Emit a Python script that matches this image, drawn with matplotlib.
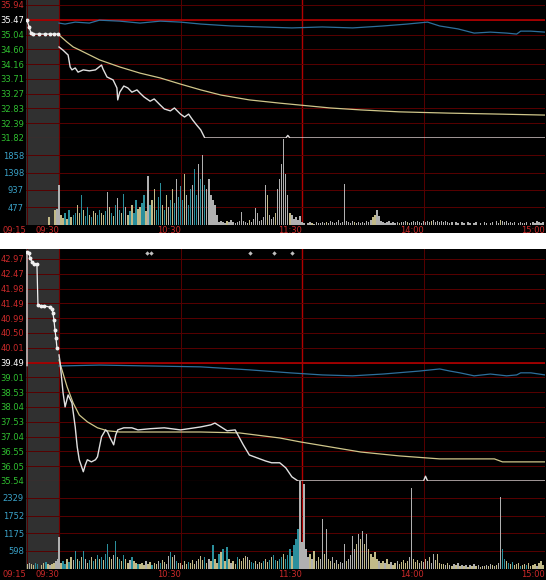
import matplotlib
matplotlib.use('Agg')
import matplotlib.pyplot as plt
import numpy as np

W, H = 548, 580

# ---------------- data: upper session ----------------
top_price_labels = ['35.94', '35.47', '35.04', '34.60', '34.16', '33.71', '33.27', '32.83', '32.39', '31.82']
top_vol_labels = ['477', '937', '1398', '1858']
top_vol_ticks = [477, 937, 1398, 1858]
top_prev = 35.47
top_floor = 31.82

top_pre_t = [-15.8, -14.8, -13.8, -12.8, -10.0, -6.9, -4.4, -2.5, -0.5]
top_pre_p = [35.47, 35.26, 35.07, 35.04, 35.04, 35.04, 35.04, 35.04, 35.04]

top_t = [0, 2, 4.5, 5.5, 6.4, 8, 9.4, 12, 15, 18, 21, 21.7, 23.7, 26.7, 28.6, 29, 30, 32, 34, 36,
         38.5, 40, 42, 45, 47, 50, 52, 55, 57, 60, 62, 64, 66, 68, 70, 72, 112, 113, 114, 240]
top_p = [34.64, 34.54, 34.39, 34.02, 33.93, 33.99, 33.86, 33.93, 33.90, 33.93, 34.08, 33.96, 33.71, 33.62, 33.37, 33.00, 33.24, 33.43, 33.37, 33.24,
         33.31, 33.21, 33.09, 32.96, 33.03, 32.84, 32.72, 32.66, 32.75, 32.56, 32.47, 32.56, 32.38, 32.22, 32.07, 31.82, 31.82, 31.90, 31.82, 31.82]

top_avg_t = [0, 4, 7, 10, 20, 30, 40, 50, 60, 70, 80, 94, 109, 119, 134, 149, 168, 193, 218, 240]
top_avg_p = [35.01, 34.79, 34.64, 34.55, 34.24, 34.02, 33.83, 33.68, 33.49, 33.31, 33.15, 33.00, 32.90, 32.84, 32.75, 32.69, 32.63, 32.59, 32.56, 32.53]

top_idx_t = [0, 3, 8, 15, 20, 30, 40, 50, 60, 70, 85, 100, 115, 130, 145, 160, 172, 182, 188, 197,
             205, 213, 221, 226, 228, 233, 240]
top_idx_p = [35.38, 35.35, 35.41, 35.38, 35.47, 35.44, 35.38, 35.44, 35.41, 35.35, 35.29, 35.26, 35.23, 35.26, 35.23, 35.29, 35.35, 35.41, 35.29, 35.20,
             35.07, 35.10, 35.07, 35.04, 35.13, 35.13, 35.10]

top_pre_vol_t = [-5, -2, -1]
top_pre_vol = [220, 400, 430]
top_pre_kind = 'yyw'

top_vol = [1080, 270, 190, 320, 160, 400, 220, 270, 320, 540,
           320, 790, 400, 240, 490, 270, 220, 380, 320, 270,
           400, 320, 270, 380, 870, 490, 320, 240, 540, 730,
           400, 320, 840, 490, 270, 380, 540, 320, 680, 430,
           490, 590, 810, 380, 1320, 540, 680, 950, 400, 760,
           1130, 540, 400, 810, 490, 680, 950, 590, 1220, 760,
           1030, 680, 1350, 810, 540, 950, 1080, 1490, 810, 1620,
           1220, 1860, 1080, 950, 1240, 810, 680, 540, 270, 80,
           110, 80, 50, 110, 80, 140, 80, 50, 80, 110,
           350, 110, 80, 50, 140, 80, 160, 460, 320, 110,
           140, 220, 1080, 810, 270, 160, 220, 320, 950, 1220,
           1620, 2300, 1350, 810, 320, 270, 160, 220, 140, 240,
           80, 50, 0, 50, 80, 50, 30, 80, 50, 50,
           80, 50, 80, 50, 110, 80, 50, 80, 140, 50,
           80, 1100, 110, 80, 50, 110, 80, 50, 80, 50,
           80, 50, 110, 80, 140, 220, 270, 400, 240, 110,
           80, 50, 80, 110, 50, 80, 50, 80, 50, 80,
           80, 110, 80, 50, 80, 110, 80, 110, 80, 50,
           110, 80, 110, 80, 110, 140, 80, 110, 80, 110,
           80, 110, 80, 50, 80, 0, 80, 50, 0, 80,
           50, 0, 80, 50, 0, 50, 80, 0, 50, 0,
           80, 50, 0, 50, 80, 0, 110, 50, 140, 110,
           80, 110, 50, 80, 50, 80, 0, 50, 80, 50,
           50, 80, 0, 50, 80, 50, 110, 80, 50, 80]
top_kind = ("wyycycyccy" "ycyccycyyc" "cyycwycycw" "cycwycyccy" "yccywcyycc" "cycywcycwc"
            "ccywccwccw" "cwcwwwwwww" "wwwywwwwww" "wwwwywwwww" "wwwywwwyww" "wwwwywwwww"
            "wwwwwywwww" "wwywwwwwww" "wwwwwwywww" "wwwwwyywww" "wwwwwwwwyw" "wwywwwwwww"
            "wwwwywwwww" "wwwwwwwwww" "wwwwwwwwww" "wwwwwwwwyw" "wwwwwwwwww" "wwwwwwwwww")

# ---------------- data: lower session ----------------
bot_price_labels = ['42.97', '42.47', '41.98', '41.49', '40.99', '40.50', '40.01', '39.49',
                    '39.01', '38.53', '38.04', '37.53', '37.04', '36.55', '36.05', '35.54']
bot_vol_labels = ['598', '1175', '1752', '2329']
bot_vol_ticks = [598, 1175, 1752, 2329]
bot_prev = 39.49
bot_floor = 35.54

bot_pre_t = [-15.8, -15.8, -14.8, -14.3, -13.3, -12.3, -10.9, -10.4, -8.9, -7.4, -4.4, -3.5, -3.0, -2.5, -2.0, -1.5, -1.0]
bot_pre_p = [39.40, 43.20, 43.17, 43.00, 42.87, 42.80, 42.80, 41.43, 41.40, 41.40, 41.36, 41.30, 41.16, 40.93, 40.60, 40.33, 39.99]

bot_t = [0, 0.5, 2, 3, 4.5, 6.4, 8, 9, 10, 12, 13, 14, 16, 18, 19, 21, 23, 24, 25, 27,
         28, 29, 32, 36, 39, 45, 52, 60, 70, 75, 77, 80, 83, 87, 91, 94, 98, 102, 105, 109,
         112, 115, 118, 180, 181, 182, 240]
bot_p = [39.76, 39.52, 38.49, 38.02, 38.42, 38.15, 37.35, 36.68, 36.25, 35.85, 36.08, 36.25, 36.18, 36.25, 36.35, 37.02, 37.25, 37.18, 37.02, 36.75,
         37.08, 37.25, 37.32, 37.32, 37.25, 37.29, 37.32, 37.25, 37.35, 37.42, 37.48, 37.35, 37.22, 37.25, 36.75, 36.41, 36.31, 36.21, 36.15, 36.15,
         35.98, 35.68, 35.54, 35.54, 35.70, 35.54, 35.54]

bot_avg_t = [0, 4, 7, 10, 14, 19, 24, 30, 39, 70, 89, 109, 119, 134, 149, 168, 188, 215, 219, 240]
bot_avg_p = [39.59, 38.69, 38.15, 37.75, 37.52, 37.32, 37.22, 37.18, 37.18, 37.18, 37.15, 36.98, 36.85, 36.68, 36.51, 36.38, 36.28, 36.28, 36.18, 36.18]

bot_idx_t = [0, 20, 45, 70, 94, 114, 130, 145, 160, 178, 188, 193, 198, 205, 213, 221, 226, 228, 233, 240]
bot_idx_p = [39.39, 39.42, 39.39, 39.36, 39.26, 39.16, 39.09, 39.06, 39.12, 39.22, 39.29, 39.22, 39.16, 39.06, 39.12, 39.06, 39.09, 39.16, 39.16, 39.09]

bot_mark_t = [43.5, 45.4, 94.3, 106, 115]
bot_mark_p = 43.17

bot_pre_vol_t = [-15.5, -14.5, -13.5, -12.5, -11.5, -10.5, -9.5, -8.5, -7.5, -6.5, -5.5, -4.5, -3.5, -2.5, -1.5, -0.5]
bot_pre_vol = [160, 190, 160, 130, 190, 160, 0, 130, 190, 220, 160, 130, 160, 190, 260, 330]
bot_pre_kind = "ywyyccwyycywyyww"

bot_vol = [1040, 200, 260, 160, 330, 230, 390, 290, 590, 330,
           260, 390, 590, 330, 200, 290, 390, 260, 330, 460,
           330, 390, 290, 490, 820, 390, 330, 460, 910, 390,
           330, 260, 460, 330, 200, 290, 390, 260, 200, 160,
           160, 200, 130, 260, 160, 230, 130, 200, 160, 260,
           200, 290, 230, 160, 420, 550, 390, 460, 260, 200,
           200, 130, 260, 160, 230, 200, 290, 160, 260, 330,
           420, 290, 390, 200, 330, 260, 780, 330, 200, 490,
           550, 650, 260, 720, 330, 200, 260, 160, 390, 330,
           260, 360, 420, 390, 290, 230, 200, 260, 160, 230,
           200, 260, 330, 230, 290, 390, 460, 290, 260, 330,
           390, 490, 330, 460, 650, 420, 780, 980, 1300, 2870,
           900, 2800, 650, 390, 490, 330, 590, 260, 390, 330,
           1630, 490, 1300, 330, 260, 390, 200, 290, 160, 230,
           200, 820, 260, 330, 460, 1080, 650, 820, 1140, 980,
           1240, 820, 1140, 650, 490, 390, 550, 330, 260, 200,
           260, 200, 330, 160, 230, 130, 200, 260, 160, 230,
           290, 200, 260, 390, 2670, 330, 230, 290, 200, 260,
           230, 330, 260, 390, 200, 490, 290, 490, 200, 160,
           160, 130, 200, 130, 100, 160, 130, 200, 100, 130,
           100, 130, 65, 130, 100, 160, 100, 130, 65, 100,
           100, 130, 100, 160, 130, 100, 130, 200, 2350, 650,
           330, 260, 200, 160, 230, 130, 160, 200, 100, 130,
           160, 130, 200, 100, 130, 160, 100, 200, 260, 130]
bot_kind = ("wyccycywcy" "cycwycycyc" "ycyccyywcy" "cycyywcyyc" "yyywyycyyw" "cyywwcywcy"
            "ywyycyyywy" "yycywycyyc" "ycycywyycy" "yyywyccywy" "ycyycyccyc" "cycccycccw"
            "wwwwywywyw" "wywyywywyw" "wwywwwwywy" "wywyyyyywy" "ywyywyywyy" "yyywwyyywy"
            "wywywwyyyy" "ywywywywyw" "ywywywywyw" "ywywywywwc" "cycycyyycy" "ycyyyywyyy")

time_ticks = [-16.3, 0, 60, 120, 180, 240]
time_labels = ['09:15', '09:30', '10:30', '11:30', '14:00', '15:00']

# ---------------- style ----------------
DIM = '#580000'
BRIGHT = '#b00000'
GRAY_BOX = '#303030'
kind_color = {'c': '#2b8f9c', 'y': '#c2ba88', 'w': '#b0b0b0'}
FS = 6


def box(x0, y0, x1, y1):
    return [x0 / W, 1 - y1 / H, (x1 - x0) / W, (y1 - y0) / H]


def clean(ax):
    ax.set_facecolor('black')
    for s in ax.spines.values():
        s.set_visible(False)
    ax.set_xlim(-16.3, 240)
    ax.axvspan(-16.3, 0, color=GRAY_BOX, zorder=0, lw=0)
    ax.axvline(-16.0, color=DIM, lw=0.7, zorder=1)
    ax.axvline(0, color='#700000', lw=0.8, zorder=1)
    ax.axvline(60, color=DIM, lw=0.7, zorder=1)
    ax.axvline(120, color=BRIGHT, lw=1.0, zorder=1)
    ax.axvline(180, color=DIM, lw=0.7, zorder=1)
    ax.tick_params(length=0, pad=1.5, labelsize=FS)


def draw_panel(y0, y_split, y_base, y1, top_label, top_extra, labels, prev, floor,
               pre_t, pre_p, t, p, avg_t, avg_p, idx_t, idx_p,
               vol_ticks, vol_labels, vol_top, pre_vt, pre_v, pre_k, vol, kind,
               pre_connect):
    bg = fig.add_axes(box(0, y0, 546, y1))
    bg.set_facecolor('black')
    bg.set_xticks([])
    bg.set_yticks([])
    for s in bg.spines.values():
        s.set_visible(False)

    n = len(labels)
    step = (top_label - floor) / (n - 1)
    ax = fig.add_axes(box(26, y0, 545, y_split))
    clean(ax)
    grid = np.linspace(top_label, floor, n)
    ax.set_ylim(floor, top_label + top_extra * step)
    for g in grid:
        ax.axhline(g, color=DIM, lw=0.7, zorder=1)
    ip = labels.index(f'{prev:.2f}')
    ax.axhline(grid[ip], color=BRIGHT, lw=1.2, zorder=2)
    ax.set_yticks(grid)
    ax.set_yticklabels(labels)
    for i, tl in enumerate(ax.get_yticklabels()):
        tl.set_color('#cc2a2a' if i < ip else ('white' if i == ip else '#30c030'))
    ax.set_xticks([])

    ax.plot(idx_t, idx_p, color='#2d6f9c', lw=0.9, zorder=3)
    ax.plot(avg_t, avg_p, color='#cfc68a', lw=0.9, zorder=4)
    ax.plot(t, p, color='#e0e0e0', lw=1.0, zorder=5)
    ax.plot(pre_t, pre_p, color='#f0f0f0', lw=0.9, zorder=5,
            marker='o', ms=1.8, markevery=list(range(pre_connect, len(pre_t))))
    ax.axhline(floor, color='#c01010', lw=0.8, zorder=6)

    vx = fig.add_axes(box(26, y_split, 545, y_base))
    clean(vx)
    vx.set_ylim(0, vol_top)
    for g in vol_ticks:
        vx.axhline(g, color=DIM, lw=0.7, zorder=1)
    vx.set_yticks(vol_ticks)
    vx.set_yticklabels(vol_labels)
    for tl in vx.get_yticklabels():
        tl.set_color('#3aa2c8')
    vx.bar(pre_vt, pre_v, width=0.65, color=[kind_color[k] for k in pre_k], lw=0, zorder=3)
    vx.bar(np.arange(len(vol)), vol, width=0.65, color=[kind_color[k] for k in kind], lw=0, zorder=3)
    vx.set_xticks(time_ticks)
    vx.set_xticklabels(time_labels, ha='right', color='#cc2a2a')
    vx.tick_params(axis='x', pad=1)
    return ax, vx


fig = plt.figure(figsize=(W / 100, H / 100), dpi=100)
fig.patch.set_facecolor('white')

draw_panel(0, 138, 225, 233, 35.94, 5 / 14.78, top_price_labels, top_prev, top_floor,
           top_pre_t, top_pre_p, top_t, top_p, top_avg_t, top_avg_p, top_idx_t, top_idx_p,
           top_vol_ticks, top_vol_labels, 2320, top_pre_vol_t, top_pre_vol, top_pre_kind,
           top_vol, top_kind, 0)

ax2, vx2 = draw_panel(249, 481, 569, 580, 42.97, 10 / 14.8, bot_price_labels, bot_prev, bot_floor,
                      bot_pre_t, bot_pre_p, bot_t, bot_p, bot_avg_t, bot_avg_p, bot_idx_t, bot_idx_p,
                      bot_vol_ticks, bot_vol_labels, 2886, bot_pre_vol_t, bot_pre_vol, bot_pre_kind,
                      bot_vol, bot_kind, 1)
ax2.scatter(bot_mark_t, [bot_mark_p] * len(bot_mark_t), marker='D', s=5, color='#c0c0c0', zorder=6, lw=0)

fig.savefig('out.png', dpi=100, facecolor='white')
